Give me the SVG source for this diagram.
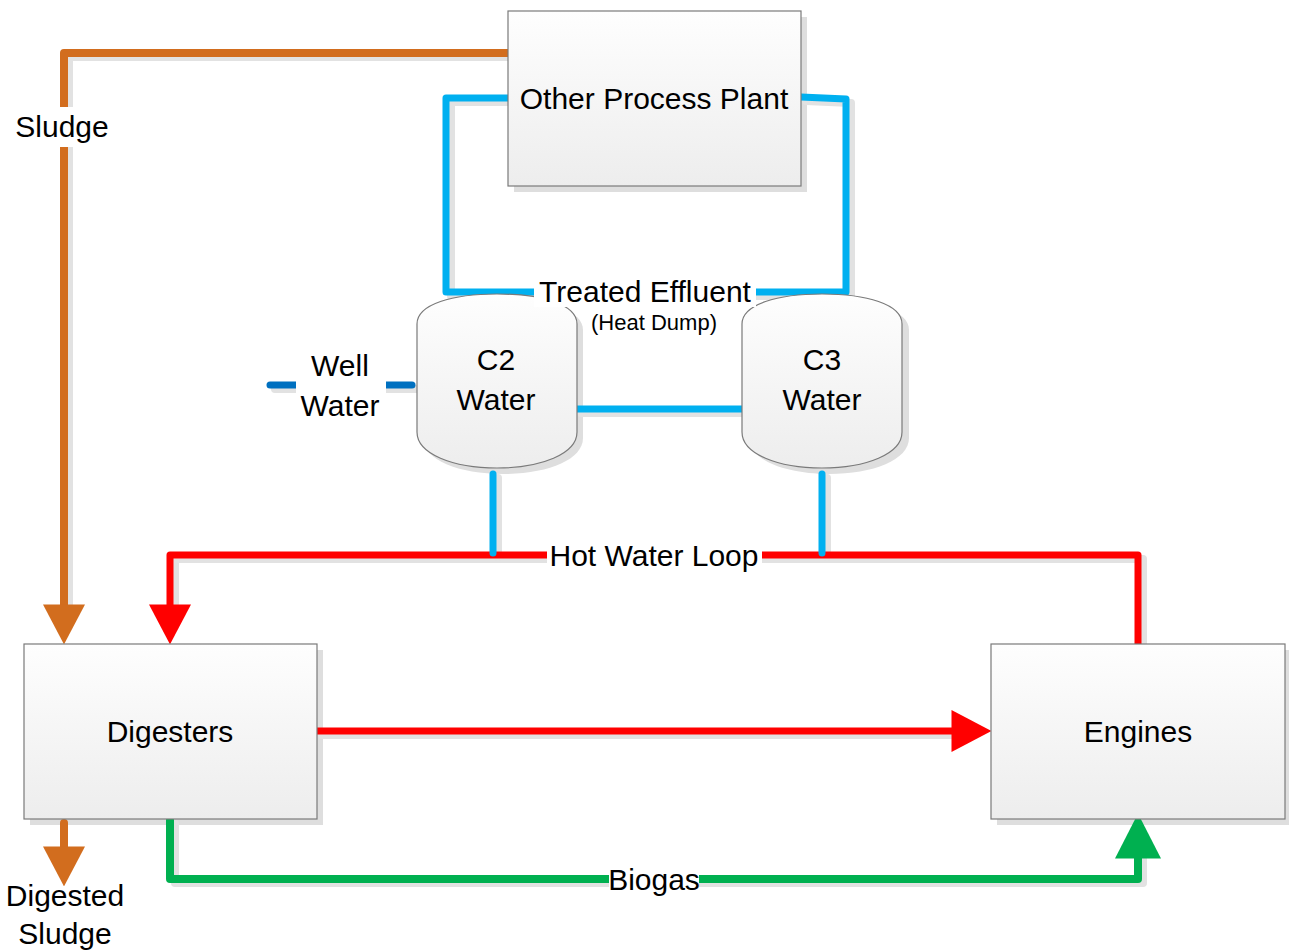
<svg xmlns="http://www.w3.org/2000/svg" xmlns:xlink="http://www.w3.org/1999/xlink" width="1289" height="950" viewBox="0 0 1289 950">
<style>
  text { font-family: "Liberation Sans", Arial, sans-serif; font-size: 30px; fill: #000; text-anchor: middle; }
  .small { font-size: 22px; }
  .box { fill: url(#boxgrad); stroke: #7a7a7a; stroke-width: 1.2; }
  .bshadow { fill: #dedede; }
  .ln { fill: none; stroke-linecap: round; stroke-linejoin: round; }
  .sh { fill: none; stroke: #e2e2e2; stroke-linecap: round; stroke-linejoin: round; stroke-width: 8; }
  .orange { stroke: #D26D1E; stroke-width: 8; }
  .red { stroke: #FF0000; stroke-width: 7; }
  .green { stroke: #00B050; stroke-width: 8; }
  .blue { stroke: #00B0F0; stroke-width: 7; }
  .dblue { stroke: #0070C0; stroke-width: 7; }
  .bg { fill: #fff; }
</style>
<defs>
  <linearGradient id="boxgrad" x1="0" y1="0" x2="0" y2="1">
    <stop offset="0" stop-color="#fefefe"/>
    <stop offset="1" stop-color="#ededed"/>
  </linearGradient>
  <marker id="arrOrange" markerUnits="userSpaceOnUse" markerWidth="40" markerHeight="42" viewBox="0 0 38 40" refX="10" refY="20" orient="auto">
    <path d="M0,0 L38,20 L0,40 Z" fill="#D26D1E"/>
  </marker>
  <marker id="arrRed" markerUnits="userSpaceOnUse" markerWidth="40" markerHeight="42" viewBox="0 0 38 40" refX="10" refY="20" orient="auto">
    <path d="M0,0 L38,20 L0,40 Z" fill="#FF0000"/>
  </marker>
  <marker id="arrGreen" markerUnits="userSpaceOnUse" markerWidth="46" markerHeight="46" viewBox="0 0 43 44" refX="10" refY="22" orient="auto">
    <path d="M0,0 L43,22 L0,44 Z" fill="#00B050"/>
  </marker>
  <path id="pSludge" d="M510,53 L64,53 L64,615"/>
  <path id="pDig" d="M64,823 L64,857"/>
  <path id="pHot" d="M1138,644 L1138,555 L170,555 L170,615"/>
  <path id="pDE" d="M317,731 L962,731"/>
  <path id="pBio" d="M170,820 L170,879 L1138,879 L1138,848"/>
  <path id="pEff" d="M508,98 L446,98 L446,292 L846,292 L846,99 L801,97"/>
  <path id="pC2C3" d="M576,409 L742,409"/>
  <path id="pC2d" d="M493,474 L493,553"/>
  <path id="pC3d" d="M822,474 L822,553"/>
  <path id="pWell" d="M270,385 L412,385"/>
  <path id="tank" d="M0,30 C0,10 36,0 80,0 C124,0 160,10 160,30 L160,138 C160,160 124,174 80,174 C36,174 0,160 0,138 Z"/>
</defs>

<!-- node shadows -->
<g id="shadows">
  <rect class="bshadow" x="514" y="17" width="293" height="175"/>
  <rect class="bshadow" x="30" y="650" width="293" height="175"/>
  <rect class="bshadow" x="997" y="650" width="294" height="175"/>
  <use xlink:href="#tank" class="bshadow" transform="translate(423,300)"/>
  <use xlink:href="#tank" class="bshadow" transform="translate(749,300)"/>
</g>

<!-- connectors -->
<g id="connectors">
  <g id="connector-shadows" transform="translate(5,4)">
    <use xlink:href="#pSludge" class="sh"/>
    <use xlink:href="#pHot" class="sh"/>
    <use xlink:href="#pDE" class="sh"/>
    <use xlink:href="#pBio" class="sh"/>
    <use xlink:href="#pEff" class="sh"/>
    <use xlink:href="#pC2C3" class="sh"/>
    <use xlink:href="#pC2d" class="sh"/>
    <use xlink:href="#pC3d" class="sh"/>
    <use xlink:href="#pWell" class="sh"/>
  </g>
  <use xlink:href="#pSludge" class="ln orange" marker-end="url(#arrOrange)"/>
  <use xlink:href="#pDig" class="ln orange" marker-end="url(#arrOrange)"/>
  <use xlink:href="#pHot" class="ln red" marker-end="url(#arrRed)"/>
  <use xlink:href="#pDE" class="ln red" marker-end="url(#arrRed)"/>
  <use xlink:href="#pBio" class="ln green" marker-end="url(#arrGreen)"/>
  <use xlink:href="#pEff" class="ln blue"/>
  <use xlink:href="#pC2C3" class="ln blue"/>
  <use xlink:href="#pC2d" class="ln blue"/>
  <use xlink:href="#pC3d" class="ln blue"/>
  <use xlink:href="#pWell" class="ln dblue"/>

  <!-- connector labels -->
  <g id="label-sludge">
    <rect class="bg" x="16" y="107" width="94" height="40"/>
    <text x="62" y="137">Sludge</text>
  </g>
  <g id="label-effluent">
    <text class="small" x="654" y="330">(Heat Dump)</text>
  </g>
  <g id="label-hot">
    <rect class="bg" x="547" y="539" width="215" height="34"/>
    <text x="654" y="566">Hot Water Loop</text>
  </g>
  <g id="label-biogas">
    <rect class="bg" x="609" y="863" width="90" height="34"/>
    <text x="654" y="890">Biogas</text>
  </g>
  <g id="label-well">
    <rect class="bg" x="296" y="348" width="90" height="74"/>
    <text x="340" y="376">Well</text>
    <text x="340" y="416">Water</text>
  </g>
  <g id="label-digested">
    <text x="65" y="906">Digested</text>
    <text x="65" y="944">Sludge</text>
  </g>
</g>

<!-- nodes -->
<g id="node-other-process-plant">
  <rect class="box" x="508" y="11" width="293" height="175"/>
  <text x="654" y="109">Other Process Plant</text>
</g>
<g id="node-digesters">
  <rect class="box" x="24" y="644" width="293" height="175"/>
  <text x="170" y="742">Digesters</text>
</g>
<g id="node-engines">
  <rect class="box" x="991" y="644" width="294" height="175"/>
  <text x="1138" y="742">Engines</text>
</g>
<g id="node-c2">
  <use xlink:href="#tank" class="box" transform="translate(417,294)"/>
  <text x="496" y="370">C2</text>
  <text x="496" y="410">Water</text>
</g>
<g id="node-c3">
  <use xlink:href="#tank" class="box" transform="translate(742,294)"/>
  <text x="822" y="370">C3</text>
  <text x="822" y="410">Water</text>
</g>

<!-- effluent label drawn over the tanks -->
<g id="label-effluent-top">
  <rect class="bg" x="534" y="277" width="222" height="30"/>
  <text x="645" y="302">Treated Effluent</text>
</g>
</svg>
